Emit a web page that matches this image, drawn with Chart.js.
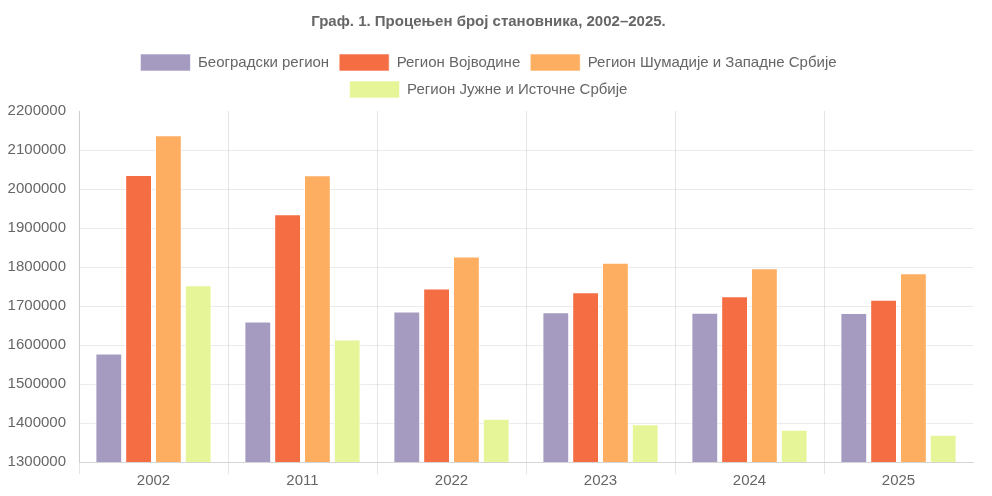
<!DOCTYPE html>
<html>
<head>
<meta charset="utf-8">
<script src="https://cdn.jsdelivr.net/npm/chart.js@4"></script>
<style>
  html, body { margin: 0; padding: 0; background: #fff; }
  #wrap { width: 992px; height: 496px; }
</style>
</head>
<body>
<div id="wrap"><canvas id="chart" width="992" height="496"></canvas></div>
<script>
// ── Data ─────────────────────────────────────────────────────
const years      = ['2002', '2011', '2022', '2023', '2024', '2025'];
const beograd    = [1578000, 1660000, 1686000, 1684000, 1683000, 1682000];
const vojvodina  = [2036000, 1935000, 1745000, 1735000, 1725000, 1716000];
const sumadija   = [2138000, 2035000, 1827000, 1811000, 1797000, 1784000];
const jugIstok   = [1753000, 1614000, 1411000, 1397000, 1383000, 1370000];

const seriesNames  = ['Београдски регион', 'Регион Војводине', 'Регион Шумадије и Западне Србије', 'Регион Јужне и Источне Србије'];
const seriesColors = ['#a59bc0', '#f46d43', '#fdae61', '#e6f598'];

const FONT = "'Liberation Sans', Arial, sans-serif";
Chart.defaults.font.family = FONT;
Chart.defaults.color = '#666';

const mk = (i, data) => ({
  label:           seriesNames[i],
  data,
  backgroundColor: seriesColors[i],
  borderColor:     'rgba(255,255,255,0.6)',
  borderWidth:     1,
});

// a bit more room under the legend than Chart.js gives by default
const legendGap = {
  id: 'legendGap',
  beforeLayout(chart) {
    const lg = chart.legend;
    if (!lg || lg._gapPatched) return;
    const fit = lg.fit;
    lg.fit = function () { fit.call(this); this.height += 3; };
    lg._gapPatched = true;
  }
};

new Chart(document.getElementById('chart'), {
  type: 'bar',
  data: {
    labels: years,
    datasets: [mk(0, beograd), mk(1, vojvodina), mk(2, sumadija), mk(3, jugIstok)],
  },
  options: {
    responsive: false,
    animation: false,
    layout: { padding: { left: 4, right: 19, top: 4, bottom: 8 } },
    plugins: {
      title: {
        display: true,
        text: 'Граф. 1. Процењен број становника, 2002–2025.',
        font: { size: 15, weight: 'bold' },
        color: '#666',
        padding: { top: 9, bottom: 13 },
      },
      legend: {
        labels: {
          font: { size: 15 },
          boxWidth: 50,
          boxHeight: 17,
          padding: 10,
          color: '#666',
        }
      },
      tooltip: { enabled: false },
    },
    scales: {
      x: {
        grid: {
          // the closing line on the right edge is not drawn in the original
          color: (ctx) => ctx.tick ? 'rgba(0,0,0,0.1)' : 'rgba(0,0,0,0)',
          offset: true,
          tickLength: 12,
        },
        ticks: { font: { size: 15 }, color: '#666', padding: -2 },
      },
      y: {
        min: 1300000,
        max: 2200000,
        afterFit: (scale) => { scale.width = 75; },
        grid: {
          color: (ctx) => ctx.tick && ctx.tick.value === 2200000 ? 'rgba(0,0,0,0)' : 'rgba(0,0,0,0.08)',
          drawTicks: false,
        },
        border: { display: true },
        ticks: {
          stepSize: 100000,
          font: { size: 15 },
          color: '#666',
          padding: 13,
          callback: (v) => String(v),
        },
      }
    }
  },
  plugins: [legendGap]
});
</script>
</body>
</html>
